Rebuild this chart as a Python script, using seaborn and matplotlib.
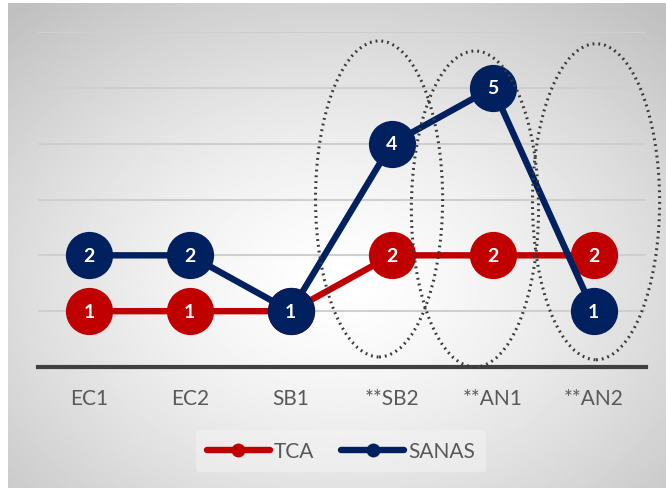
import numpy as np
import pandas as pd
import matplotlib
matplotlib.use("Agg")
import matplotlib.pyplot as plt
from matplotlib.patches import Ellipse
from matplotlib.lines import Line2D
import seaborn as sns

# Data
stages = ["EC1", "EC2", "SB1", "**SB2", "**AN1", "**AN2"]
tca = [1, 1, 1, 2, 2, 2]
sanas = [2, 2, 1, 4, 5, 1]
series_names = ["TCA", "SANAS"]
series_colors = ["#C00000", "#002060"]

# Highlighted stages (index of stage, ellipse centre offset, centre y)
highlight_idx = [3, 4, 5]
highlight_dx = [-0.125, -0.175, 0.025]
highlight_cy = [3.01, 2.83, 2.96]

sns.set_theme(style="white")
plt.rcParams["font.family"] = ["Lato", "DejaVu Sans"]

df = pd.DataFrame({
    "stage": stages * 2,
    "value": tca + sanas,
    "series": [series_names[0]] * len(stages) + [series_names[1]] * len(stages),
})

W, H = 666, 489
fig = plt.figure(figsize=(W / 100, H / 100), dpi=100)
fig.patch.set_facecolor("white")

# Panel background with a soft radial gradient
bg = fig.add_axes([8 / W, 0, 1 - 8 / W, 1 - 4 / H], zorder=-5)
ny, nx = 400, 600
yy, xx = np.mgrid[0:ny, 0:nx]
rx = (xx / nx - 0.50)
ry = (yy / ny - 0.58)
r = np.sqrt(rx ** 2 + ry ** 2)
val = 1 - 0.25 * np.clip(r / 0.75, 0, 1) ** 1.4
bg.imshow(val, cmap="gray", vmin=0, vmax=1, aspect="auto",
          extent=[0, 1, 0, 1], origin="upper", interpolation="bilinear")
bg.set_axis_off()

ax = fig.add_axes([38 / W, 1 - 368 / H, (646 - 38) / W, (368 - 33) / H])
ax.patch.set_alpha(0)

sns.lineplot(data=df, x="stage", y="value", hue="series",
             palette=series_colors, marker="o", markersize=34,
             linewidth=4.6, markeredgewidth=0, sort=False,
             legend=False, ax=ax)

for line in ax.lines:
    line.set_clip_on(False)
ax.lines[1].set_zorder(4)
ax.lines[0].set_zorder(3)

# Value labels inside markers
for vals, z in ((tca, 3.5), (sanas, 4.5)):
    for i, v in enumerate(vals):
        ax.text(i, v, str(v), color="white", fontsize=14, fontweight="bold",
                ha="center", va="center", zorder=z)

ax.set_xlim(-0.505, 5.52)
ax.set_ylim(0, 6)
ax.set_yticks(range(1, 7))
ax.set_yticklabels([])
ax.yaxis.grid(True, color="#cfcfcf", linewidth=1.5)
ax.set_axisbelow(True)
ax.set_xticks(range(len(stages)))
ax.set_xticklabels(stages, color="#595959", fontsize=15)
ax.tick_params(axis="x", length=0, pad=15)
ax.tick_params(axis="y", length=0)
ax.set_xlabel("")
ax.set_ylabel("")
for side in ("top", "right", "left"):
    ax.spines[side].set_visible(False)
ax.spines["bottom"].set_color("#404040")
ax.spines["bottom"].set_linewidth(3)

# Dotted ellipses around highlighted stages
for idx, dx, cy in zip(highlight_idx, highlight_dx, highlight_cy):
    e = Ellipse((idx + dx, cy), width=1.26, height=5.66, fill=False,
                edgecolor="#3a3a3a", linewidth=2.2, linestyle=(0, (0.6, 1.3)),
                zorder=6, clip_on=False)
    ax.add_patch(e)

handles = [Line2D([0], [0], color=c, linewidth=4.6, marker="o", markersize=10,
                  markeredgewidth=0) for c in series_colors]
leg = fig.legend(handles, series_names, loc="center",
                 bbox_to_anchor=(341 / W, 1 - 452 / H), ncol=2,
                 frameon=True, fontsize=15, handlelength=3.0,
                 handletextpad=0.2, columnspacing=1.3, borderpad=0.55)
leg.get_frame().set_facecolor("#f6f6f6")
leg.get_frame().set_edgecolor("none")
leg.get_frame().set_alpha(0.45)
for t in leg.get_texts():
    t.set_color("#595959")

fig.savefig("out.png", dpi=100)
